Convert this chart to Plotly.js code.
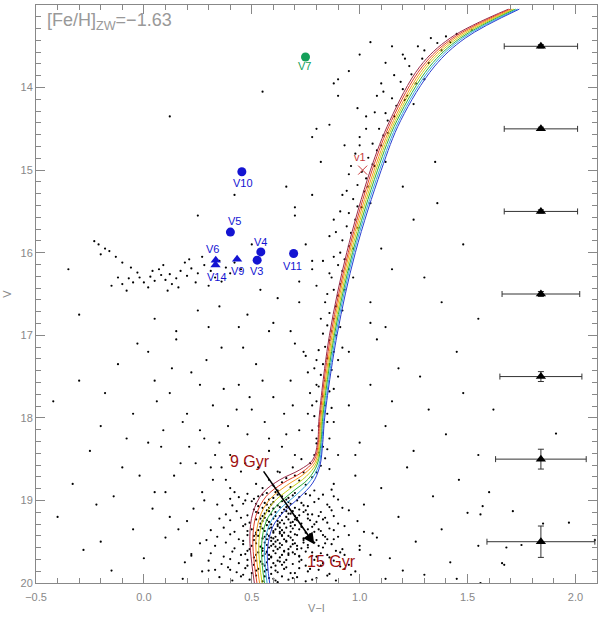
<!DOCTYPE html>
<html>
<head>
<meta charset="utf-8">
<script src="https://cdn.plot.ly/plotly-3.0.1.min.js"></script>
<style>
  html, body { margin: 0; padding: 0; background: #fff; }
  #plot { width: 600px; height: 618px; }
</style>
</head>
<body>
<div id="plot"></div>
<script>
// isochrones 9..15 Gyr, [V-I, V]
const iso9  = [[0.512,20.0],[0.500,19.76],[0.491,19.44],[0.505,19.15],[0.551,18.91],[0.630,18.75],[0.722,18.63],[0.782,18.51],[0.805,18.30],[0.812,18.0],[0.860,17.0],[0.940,16.0],[1.050,15.0],[1.140,14.4],[1.278,13.75],[1.420,13.4],[1.690,13.05]];
const iso10 = [[0.524,20.0],[0.512,19.77],[0.505,19.46],[0.520,19.18],[0.567,18.95],[0.645,18.79],[0.732,18.66],[0.788,18.52],[0.809,18.30],[0.816,18.0],[0.866,17.0],[0.947,16.0],[1.058,15.0],[1.148,14.4],[1.289,13.75],[1.432,13.4],[1.698,13.05]];
const iso11 = [[0.536,20.0],[0.525,19.77],[0.519,19.48],[0.536,19.21],[0.582,18.99],[0.661,18.82],[0.742,18.68],[0.793,18.54],[0.813,18.30],[0.821,18.0],[0.872,17.0],[0.953,16.0],[1.067,15.0],[1.157,14.4],[1.300,13.75],[1.443,13.4],[1.707,13.05]];
const iso12 = [[0.548,20.0],[0.537,19.78],[0.533,19.50],[0.551,19.24],[0.598,19.03],[0.676,18.86],[0.752,18.71],[0.799,18.55],[0.817,18.30],[0.825,18.0],[0.878,17.0],[0.960,16.0],[1.075,15.0],[1.165,14.4],[1.311,13.75],[1.455,13.4],[1.715,13.05]];
const iso13 = [[0.559,20.0],[0.549,19.79],[0.546,19.52],[0.566,19.26],[0.613,19.07],[0.691,18.89],[0.762,18.74],[0.804,18.56],[0.821,18.30],[0.829,18.0],[0.883,17.0],[0.967,16.0],[1.083,15.0],[1.173,14.4],[1.323,13.75],[1.467,13.4],[1.723,13.05]];
const iso14 = [[0.571,20.0],[0.562,19.79],[0.560,19.54],[0.582,19.29],[0.629,19.11],[0.707,18.93],[0.772,18.76],[0.810,18.58],[0.825,18.30],[0.834,18.0],[0.889,17.0],[0.973,16.0],[1.092,15.0],[1.182,14.4],[1.334,13.75],[1.478,13.4],[1.732,13.05]];
const iso15 = [[0.583,20.0],[0.574,19.80],[0.574,19.56],[0.597,19.32],[0.644,19.15],[0.722,18.96],[0.782,18.79],[0.815,18.59],[0.829,18.30],[0.838,18.0],[0.895,17.0],[0.980,16.0],[1.100,15.0],[1.190,14.4],[1.345,13.75],[1.490,13.4],[1.740,13.05]];
const isoColors = ["#9b2d4a", "#e0402a", "#f29a1e", "#c9cf16", "#2fae3c", "#33a8e0", "#2a3fd0"];

// photometry
const msStars = [
  [0.48,18.92],[0.53,18.95],[0.57,18.91],[0.60,18.97],[0.62,18.93],[0.66,18.99],[0.69,18.94],[0.72,18.96],[0.75,18.92],[0.58,18.99],[0.64,18.95],[0.51,18.98],[0.70,18.91],[0.44,18.96],[0.81,18.98],[0.67,18.97],[0.55,18.93],[0.61,18.90],[0.88,18.95],
  [0.46,19.04],[0.50,19.01],[0.53,19.07],[0.56,19.03],[0.58,19.09],[0.60,19.02],[0.62,19.06],[0.64,19.01],[0.66,19.08],[0.68,19.04],[0.70,19.09],[0.73,19.03],[0.76,19.07],[0.79,19.02],[0.55,19.09],[0.59,19.05],[0.63,19.08],[0.41,19.06],[0.85,19.05],[0.92,19.09],[0.67,19.02],
  [0.43,19.13],[0.48,19.18],[0.51,19.11],[0.53,19.15],[0.55,19.19],[0.57,19.12],[0.59,19.17],[0.61,19.14],[0.63,19.19],[0.65,19.11],[0.67,19.16],[0.69,19.13],[0.72,19.18],[0.75,19.12],[0.78,19.17],[0.82,19.14],[0.56,19.16],[0.60,19.10],[0.64,19.15],[0.38,19.17],[0.88,19.19],[0.95,19.12],[0.70,19.19],[0.52,19.14],
  [0.40,19.24],[0.45,19.21],[0.49,19.27],[0.52,19.23],[0.54,19.28],[0.56,19.21],[0.58,19.26],[0.60,19.22],[0.62,19.29],[0.64,19.24],[0.66,19.20],[0.68,19.27],[0.70,19.23],[0.73,19.28],[0.76,19.22],[0.80,19.26],[0.84,19.21],[0.55,19.25],[0.59,19.29],[0.63,19.27],[0.67,19.23],[0.47,19.29],[0.35,19.22],[0.90,19.28],[0.99,19.25],[0.71,19.21],[0.57,19.24],
  [0.37,19.33],[0.42,19.38],[0.46,19.31],[0.50,19.35],[0.52,19.39],[0.54,19.32],[0.56,19.37],[0.58,19.34],[0.60,19.39],[0.62,19.31],[0.64,19.36],[0.66,19.33],[0.68,19.38],[0.70,19.30],[0.72,19.35],[0.75,19.39],[0.78,19.32],[0.82,19.37],[0.86,19.34],[0.53,19.36],[0.57,19.30],[0.61,19.35],[0.65,19.39],[0.69,19.34],[0.48,19.37],[0.31,19.36],[0.93,19.31],[1.02,19.38],[0.59,19.33],[0.63,19.38],
  [0.34,19.44],[0.40,19.41],[0.44,19.47],[0.48,19.42],[0.51,19.48],[0.53,19.43],[0.55,19.46],[0.57,19.41],[0.59,19.49],[0.61,19.44],[0.63,19.40],[0.65,19.47],[0.67,19.43],[0.69,19.48],[0.71,19.42],[0.74,19.46],[0.77,19.41],[0.80,19.48],[0.84,19.44],[0.88,19.47],[0.56,19.44],[0.60,19.46],[0.64,19.42],[0.68,19.45],[0.52,19.41],[0.46,19.49],[0.29,19.48],[0.95,19.42],[1.08,19.45],[0.58,19.43],[0.62,19.48],
  [0.33,19.55],[0.38,19.51],[0.42,19.58],[0.46,19.53],[0.49,19.59],[0.52,19.52],[0.54,19.56],[0.56,19.51],[0.58,19.57],[0.60,19.53],[0.62,19.59],[0.64,19.54],[0.66,19.50],[0.68,19.56],[0.70,19.52],[0.73,19.58],[0.76,19.54],[0.79,19.51],[0.83,19.57],[0.87,19.53],[0.55,19.58],[0.59,19.55],[0.63,19.52],[0.67,19.59],[0.71,19.55],[0.50,19.55],[0.26,19.52],[0.92,19.59],[1.00,19.55],[0.57,19.54],[0.61,19.56],
  [0.31,19.64],[0.37,19.68],[0.41,19.62],[0.45,19.66],[0.48,19.61],[0.51,19.69],[0.53,19.63],[0.55,19.67],[0.57,19.62],[0.59,19.68],[0.61,19.64],[0.63,19.69],[0.65,19.61],[0.67,19.66],[0.69,19.63],[0.72,19.68],[0.75,19.62],[0.78,19.67],[0.82,19.64],[0.86,19.69],[0.56,19.65],[0.60,19.61],[0.64,19.66],[0.70,19.65],[0.47,19.65],[0.22,19.67],[0.91,19.63],[1.05,19.66],[0.58,19.66],
  [0.30,19.73],[0.36,19.77],[0.40,19.71],[0.44,19.76],[0.48,19.72],[0.51,19.78],[0.54,19.74],[0.56,19.79],[0.58,19.71],[0.60,19.76],[0.62,19.73],[0.64,19.78],[0.66,19.72],[0.69,19.77],[0.72,19.74],[0.75,19.79],[0.79,19.72],[0.83,19.76],[0.88,19.73],[0.57,19.75],[0.61,19.79],[0.65,19.75],[0.52,19.73],[0.95,19.78],[0.19,19.75],
  [0.33,19.84],[0.39,19.81],[0.43,19.87],[0.47,19.82],[0.50,19.88],[0.53,19.83],[0.56,19.86],[0.59,19.81],[0.62,19.87],[0.65,19.83],[0.68,19.88],[0.72,19.82],[0.76,19.86],[0.81,19.84],[0.86,19.89],[0.57,19.84],[0.61,19.85],[0.27,19.86],[0.93,19.83],
  [0.35,19.93],[0.41,19.97],[0.45,19.92],[0.49,19.96],[0.52,19.91],[0.55,19.98],[0.58,19.94],[0.61,19.97],[0.64,19.92],[0.67,19.96],[0.71,19.93],[0.75,19.98],[0.80,19.94],[0.56,19.92],[0.60,19.95],[0.89,19.97]
];
const msStars2 = [
  [0.74,19.14],[0.77,19.24],[0.81,19.19],[0.69,19.26],[0.72,19.11],[0.79,19.29],[0.66,19.13],[0.62,19.25],[0.58,19.13],[0.54,19.22],[0.85,19.27],[0.87,19.12],[0.76,19.17],[0.71,19.24],[0.65,19.28],[0.61,19.19],[0.83,19.23],[0.68,19.16],
  [0.73,19.32],[0.77,19.44],[0.81,19.35],[0.85,19.47],[0.70,19.41],[0.66,19.49],[0.63,19.33],[0.59,19.45],[0.55,19.34],[0.51,19.43],[0.79,19.38],[0.83,19.42],[0.88,19.36],[0.74,19.48],[0.68,19.31],[0.64,19.43],[0.60,19.37],[0.57,19.47],[0.90,19.44],[0.76,19.35],
  [0.74,19.51],[0.78,19.63],[0.81,19.55],[0.85,19.66],[0.71,19.59],[0.67,19.64],[0.63,19.57],[0.59,19.69],[0.55,19.61],[0.52,19.66],[0.80,19.68],[0.84,19.52],[0.89,19.61],[0.76,19.57],[0.69,19.53],[0.65,19.62],[0.61,19.50],[0.57,19.63],[0.93,19.66],[0.72,19.67],
  [0.73,19.72],[0.77,19.83],[0.82,19.79],[0.70,19.88],[0.66,19.81],[0.63,19.74],[0.59,19.89],[0.55,19.77],[0.52,19.85],[0.48,19.79],[0.85,19.91],[0.78,19.96],[0.69,19.94],[0.62,19.99],[0.46,19.90],[0.40,19.84],[0.91,19.80],[0.98,19.86],
  [0.40,18.98],[0.47,19.00],[0.83,18.93],[0.86,19.08],[0.90,18.99],[0.77,18.94],[0.74,19.06],[0.71,19.00],[0.57,19.05],[0.52,19.04]
];
const sgbStars = [
  [0.55,18.85],[0.60,18.82],[0.64,18.78],[0.68,18.84],[0.72,18.76],[0.75,18.81],[0.78,18.72],[0.80,18.66],[0.82,18.58],[0.84,18.49],[0.81,18.42],[0.83,18.35],[0.79,18.88],[0.70,18.70],[0.66,18.73],[0.62,18.88],[0.86,18.62],[0.88,18.80],[0.77,18.55],[0.74,18.66],[0.85,18.38],[0.80,18.31],[0.58,18.75],[0.52,18.80],[0.90,18.45],[0.69,18.60],[0.63,18.66],[0.87,18.87],
  [0.80,18.25],[0.83,18.18],[0.81,18.10],[0.85,18.05],[0.79,17.98],[0.82,17.92],[0.84,17.85],[0.80,17.80],[0.83,17.74],[0.86,17.68],[0.81,17.62],[0.84,17.55],[0.82,17.48],[0.87,17.42],[0.83,17.35],[0.85,17.28],[0.88,17.20],[0.84,17.14],[0.86,17.06],[0.89,17.00],[0.78,18.15],[0.87,17.88],[0.77,17.70],[0.90,17.50],[0.80,17.30],[0.92,17.15],[0.76,17.95]
];
const rgbStars = [
  [0.87,16.95],[0.85,16.88],[0.88,16.80],[0.86,16.73],[0.89,16.65],[0.84,16.60],[0.90,16.52],[0.88,16.45],[0.91,16.38],[0.87,16.30],[0.92,16.22],[0.90,16.15],[0.93,16.08],[0.91,16.00],[0.95,15.92],[0.92,15.85],[0.96,15.76],[0.94,15.68],[0.98,15.60],[0.95,15.52],[0.99,15.44],[0.97,15.35],[1.02,15.26],[0.99,15.18],[1.03,15.10],[1.01,15.02],[1.06,14.93],[1.04,14.85],[1.08,14.76],[1.06,14.68],[1.11,14.58],[1.09,14.50],[1.13,14.40],[1.12,14.31],[1.17,14.22],[1.15,14.13],[1.20,14.02],[1.19,13.93],[1.24,13.84],[1.23,13.74],[1.29,13.65],[1.30,13.55],[1.36,13.46],[1.40,13.38],
  [0.86,15.80],[0.88,15.60],[0.92,15.30],[0.95,15.05],[0.98,14.80],[1.00,14.60],[1.03,14.35],[1.08,14.10],[1.10,13.95],[0.80,16.40],[0.78,16.20],[0.83,16.10],[0.93,14.70],[0.99,14.25],[1.12,13.70],[1.20,13.60],[1.15,13.50],
  [1.05,15.40],[1.12,14.90],[0.97,16.30],[0.95,17.20],[1.25,14.20],[1.30,13.90],
  [0.79,18.45],[0.86,18.25],[0.88,18.05],[0.78,17.85],[0.85,17.95],[0.80,17.60],[0.88,17.65],[0.79,17.40],[0.86,17.35],[0.81,17.18],[0.90,17.30],[0.83,16.98],[0.91,16.90],[0.82,16.80],[0.92,16.70],[0.85,16.50],[0.93,16.45],[0.86,16.25],[0.95,16.20],[0.88,16.05],[0.97,15.95],[0.89,15.75],[0.99,15.70],[0.91,15.50],[1.01,15.45],[0.94,15.25],[1.04,15.20],[0.96,14.95],[1.07,14.95],[1.00,14.70],[1.10,14.70],[1.03,14.50],[1.13,14.55],[1.07,14.30],[1.16,14.35],[1.11,14.05],[1.21,14.15],[1.16,13.85],[1.26,13.95],[1.21,13.65],[1.32,13.70],[1.27,13.50],[1.38,13.55],[1.33,13.40],[1.45,13.35],[1.52,13.30],[1.42,13.45],
  [0.72,16.60],[0.75,15.90],[0.78,15.30],[0.82,14.90],[0.86,14.45],[0.90,14.10],[0.95,13.80],[1.00,13.60],[1.05,13.45],[0.68,16.95],[0.74,17.20],[0.70,15.55],[0.80,14.50],[0.88,13.95]
];
const hbStars = [
  [0.42,16.12],[0.38,16.18],[0.35,16.10],[0.31,16.22],[0.28,16.15],[0.25,16.25],[0.22,16.19],[0.20,16.28],[0.17,16.22],[0.15,16.31],[0.12,16.26],[0.10,16.33],[0.08,16.27],[0.05,16.34],[0.03,16.29],[0.00,16.36],[-0.02,16.30],[-0.05,16.36],[-0.07,16.31],[-0.10,16.38],
  [0.40,16.25],[0.33,16.30],[0.27,16.05],[0.19,16.12],[0.13,16.38],[0.07,16.20],[0.02,16.42],[-0.03,16.24],[0.45,16.20],[0.36,16.35],[0.24,16.36],[0.16,16.42],[0.09,16.15],[-0.12,16.30],[-0.15,16.40],[0.30,16.40],[0.21,16.08],[0.11,16.46],[0.04,16.22],[-0.08,16.46],[-0.18,15.95],[-0.20,16.02],
  [-0.23,15.86],[-0.21,15.90],[-0.16,15.98],[-0.13,16.05],[-0.10,16.12],[-0.06,16.18]
];
const fieldStars = [
  [0.12,14.35],[0.55,14.05],[0.78,14.60],[1.35,14.90],[0.42,15.30],[1.25,15.60],[0.70,15.45],[1.48,15.90],[0.25,15.55],[0.62,16.55],[0.48,16.75],[0.72,16.35],[1.15,16.20],[1.38,16.60],[0.30,16.90],[0.58,16.95],[1.05,16.85],[-0.30,16.75],[-0.35,16.20],[0.78,16.10],[0.50,15.90],[1.22,14.10],[0.90,13.90],[0.66,15.20],[1.10,15.95],
  [-0.42,17.80],[-0.30,17.55],[-0.20,18.10],[-0.12,17.35],[-0.05,17.95],[0.02,17.20],[0.08,18.35],[0.12,17.70],[0.18,18.05],[0.22,17.45],[0.28,18.25],[0.32,17.85],[0.36,17.15],[0.40,18.45],[0.44,17.60],[0.48,18.20],[0.52,17.35],[0.56,18.05],[0.60,17.75],[0.64,18.35],[0.68,17.55],[0.72,18.15],[0.75,17.25],[0.95,17.85],[1.00,18.30],[1.05,17.60],[1.12,18.10],[1.18,17.40],[1.25,18.40],[1.32,17.90],[1.40,18.20],[1.48,17.70],[1.55,18.45],[1.08,17.05],[0.98,18.45],[0.15,17.05],[-0.25,18.40],[0.50,17.90],[0.58,18.40],[0.35,18.30],[0.65,17.95],[0.70,18.45],[0.46,17.15],[0.26,17.60],[0.05,17.55],
  [-0.40,19.20],[-0.33,18.80],[-0.28,19.60],[-0.22,19.05],[-0.15,19.85],[-0.10,18.60],[-0.05,19.35],[0.00,19.70],[0.05,18.90],[0.10,19.45],[0.14,18.70],[0.18,19.95],[0.20,19.25],[0.24,18.55],[0.28,19.00],[0.32,18.75],[0.36,18.60],[0.40,18.85],[0.45,18.65],[0.98,18.70],[1.02,19.05],[1.06,19.40],[1.10,18.85],[1.14,19.70],[1.18,19.20],[1.22,18.60],[1.26,19.50],[1.30,19.90],[1.34,18.95],[1.38,19.35],[1.42,19.75],[1.46,18.75],[1.50,19.15],[1.55,19.55],[1.60,18.90],[1.12,19.95],[1.00,19.60],[0.96,19.90],[1.20,19.85],[1.45,19.95],[0.12,19.20],[0.22,19.65],[-0.20,19.50],[0.30,19.85],
  [1.91,18.19],[1.71,19.13],[1.97,19.27],[2.09,19.48],[1.85,19.28],[1.68,19.57],[1.75,19.54],[1.66,19.76],[1.67,19.78],[1.57,19.07],[1.56,19.17],[1.56,20.00],
  [0.02,18.30],[0.06,17.80],[0.10,18.90],[0.13,17.40],[0.17,18.55],[0.20,17.95],[0.23,19.10],[0.26,18.15],[0.29,17.30],[0.31,18.60],[0.34,19.05],[0.37,17.65],[0.39,18.10],[0.42,18.90],[0.43,17.90],[0.38,18.75],[0.33,18.45],[0.27,18.90],[0.21,18.35],[0.16,19.35],[0.09,18.15],[0.04,19.10],[-0.02,18.70],[-0.08,18.25],[-0.14,18.95],[-0.18,17.70],[0.15,16.95],[0.05,16.80],[-0.03,17.10],[0.25,16.70],[0.35,16.65],[0.44,16.90],[0.47,18.55],[0.49,17.75],[0.53,18.60],[0.55,17.55],[0.58,18.25],[0.62,18.65],[0.66,18.20],[0.69,17.85],[0.73,18.50],[0.76,17.45],[0.70,17.10],[0.60,16.85],[0.54,16.45],
  [1.05,16.60],[1.12,16.90],[1.20,15.20],[1.30,16.30],[1.45,17.20],[1.55,16.80],[1.28,17.50],[1.36,15.40],[1.15,17.80],[1.62,17.90]
];

// variables
const circNames = ["V10", "V5", "V4", "V3", "V11"];
const circVI = [0.454, 0.401, 0.542, 0.525, 0.694];
const circV = [15.02, 15.75, 15.99, 16.09, 16.01];
const triNames = ["V9", "V6", "V14"];
const triVI = [0.432, 0.333, 0.332];
const triV = [16.08, 16.09, 16.15];
const v7 = [0.749, 13.63];
const v1 = [1.014, 15.0];

// label positions [V-I, V]
const labelPos = {
  V10: [0.458, 15.15], V5: [0.420, 15.61], V4: [0.542, 15.87], V3: [0.522, 16.22],
  V11: [0.690, 16.16], V9: [0.435, 16.22], V6: [0.319, 15.95], V14: [0.337, 16.29],
  V7: [0.745, 13.74], V1: [1.000, 14.84]
};

// typical errors
const errV = [13.5, 14.5, 15.5, 16.5, 17.5, 18.5, 19.5];
const errVI = [1.84, 1.84, 1.84, 1.84, 1.84, 1.84, 1.84];
const errX = [0.17, 0.17, 0.17, 0.18, 0.19, 0.21, 0.25];
const errY = [0.02, 0.02, 0.02, 0.03, 0.06, 0.12, 0.19];

const blue = "#1414d2";
const green = "#14a05a";
const red = "#c83c3c";
const dark = "#a01010";

const allStars = msStars.concat(msStars2, sgbStars, rgbStars, hbStars, fieldStars);

const data = [];
data.push({
  type: "scatter", mode: "markers",
  x: allStars.map((p) => p[0]), y: allStars.map((p) => p[1]),
  marker: { color: "#000", size: 2.2 },
  hoverinfo: "skip",
});

[iso9, iso10, iso11, iso12, iso13, iso14, iso15].forEach((iso, i) => {
  data.push({
    type: "scatter", mode: "lines",
    x: iso.map((p) => p[0]), y: iso.map((p) => p[1]),
    line: { color: isoColors[i], width: 1, shape: "spline", smoothing: 1 },
    hoverinfo: "skip",
  });
});

data.push({
  type: "scatter", mode: "markers",
  x: circVI, y: circV,
  marker: { color: blue, size: 9, symbol: "circle" },
});
data.push({
  type: "scatter", mode: "markers",
  x: triVI, y: triV,
  marker: { color: blue, size: 9, symbol: "triangle-up" },
});
data.push({
  type: "scatter", mode: "markers",
  x: [v7[0]], y: [v7[1]],
  marker: { color: green, size: 9, symbol: "circle" },
});
data.push({
  type: "scatter", mode: "markers",
  x: [v1[0]], y: [v1[1]],
  marker: { color: red, size: 9, symbol: "x-thin-open", line: { color: red, width: 1 } },
});

data.push({
  type: "scatter", mode: "markers",
  x: errVI, y: errV,
  marker: { color: "#000", size: 9, symbol: "triangle-up" },
  error_x: { type: "data", array: errX, color: "#333", thickness: 1, width: 3 },
  error_y: { type: "data", array: errY, color: "#333", thickness: 1, width: 3 },
});

const annotations = [];
Object.keys(labelPos).forEach((k) => {
  const c = k === "V7" ? green : k === "V1" ? red : blue;
  annotations.push({
    x: labelPos[k][0], y: labelPos[k][1], xref: "x", yref: "y",
    text: k === "V1" ? "v1" : k, showarrow: false,
    font: { family: "Liberation Sans", size: 11, color: c },
  });
});

annotations.push({
  x: 0.79, y: 19.53, ax: 0.55, ay: 18.63,
  xref: "x", yref: "y", axref: "x", ayref: "y",
  text: "", showarrow: true, arrowhead: 2, arrowsize: 1.4, arrowwidth: 1.6, arrowcolor: "#000",
});
annotations.push({
  x: 0.493, y: 18.53, xref: "x", yref: "y", text: "9 Gyr", showarrow: false,
  font: { family: "Liberation Sans", size: 16, color: dark },
});
annotations.push({
  x: 0.87, y: 19.74, xref: "x", yref: "y", text: "15 Gyr", showarrow: false,
  font: { family: "Liberation Sans", size: 16, color: dark },
});
annotations.push({
  x: 0.016, y: 0.995, xref: "paper", yref: "paper", xanchor: "left", yanchor: "top",
  text: "[Fe/H]<sub>ZW</sub>=\u22121.63", showarrow: false,
  font: { family: "Liberation Sans", size: 18, color: "#999" },
});

const axisCommon = {
  showgrid: false, zeroline: false,
  showline: true, linecolor: "#888", linewidth: 1, mirror: "allticks",
  ticks: "inside", ticklen: 9, tickcolor: "#888", tickwidth: 1,
  tickfont: { family: "Liberation Sans", size: 11, color: "#888" },
};

const layout = {
  width: 600, height: 618,
  margin: { l: 36, r: 3, t: 5, b: 35 },
  paper_bgcolor: "#fff", plot_bgcolor: "#fff",
  showlegend: false,
  xaxis: Object.assign({}, axisCommon, {
    range: [-0.5, 2.1], tick0: -0.5, dtick: 0.5, tickformat: ".1f", ticklabelstandoff: 4,
    minor: { dtick: 0.1, ticks: "inside", ticklen: 5, tickcolor: "#888" },
    title: { text: "V\u2212I", font: { family: "Liberation Sans", size: 11, color: "#888" }, standoff: 2 },
  }),
  yaxis: Object.assign({}, axisCommon, {
    range: [20, 13], tick0: 13, dtick: 1,
    minor: { dtick: 1 / 7, tick0: 13, ticks: "inside", ticklen: 5, tickcolor: "#888" },
    title: { text: "V", font: { family: "Liberation Sans", size: 11, color: "#888" }, standoff: 6 },
  }),
  annotations,
};

Plotly.newPlot("plot", data, layout, { displayModeBar: false, staticPlot: true });
</script>
</body>
</html>
